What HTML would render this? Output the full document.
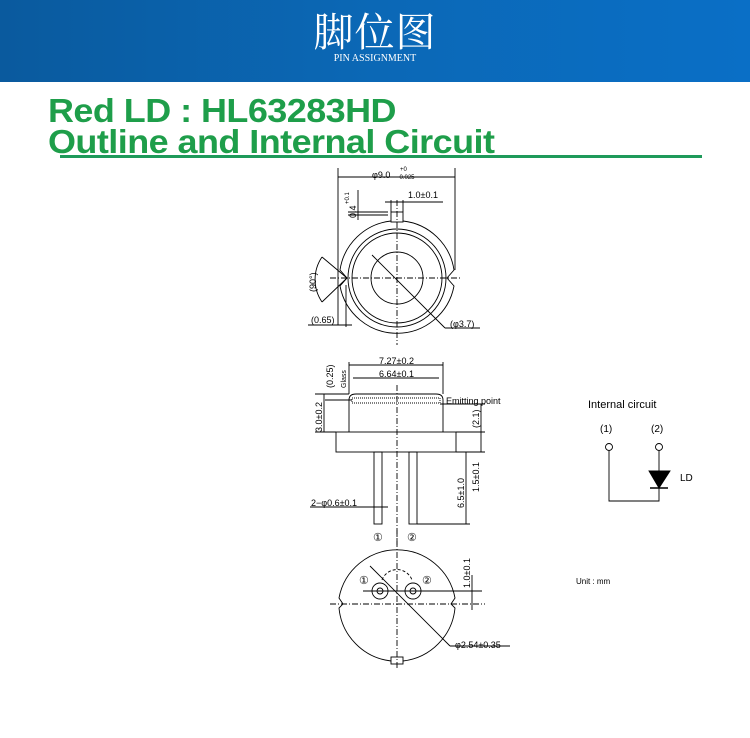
<!DOCTYPE html>
<html><head><meta charset="utf-8"><style>
html,body{margin:0;padding:0;background:#fff;}
body{width:750px;height:738px;position:relative;overflow:hidden;font-family:"Liberation Sans",sans-serif;}
.hdr{position:absolute;left:0;top:0;width:750px;height:82px;background:linear-gradient(90deg,#0a5a9e 0%,#0b68b6 50%,#0a6fc6 100%);}
.cn{position:absolute;left:0;width:750px;text-align:center;top:6px;color:#fff;font:40px "Noto Serif CJK SC","WenQuanYi Zen Hei",serif;letter-spacing:1px;line-height:48px;}
.en{position:absolute;left:0;width:750px;text-align:center;top:53px;color:#fff;font:10px "Liberation Serif",serif;}
.t{position:absolute;left:48px;color:#1e9e4a;font-weight:bold;font-size:33px;line-height:32px;transform:scaleX(1.09);transform-origin:left;letter-spacing:-0.5px;white-space:nowrap;}
</style></head><body>
<div class="hdr"></div>
<div class="cn">脚位图</div>
<div class="en">PIN ASSIGNMENT</div>
<div class="t" style="top:95px">Red LD : HL63283HD</div>
<div class="t" style="top:126px">Outline and Internal Circuit</div>
<div style="position:absolute;left:60px;top:155px;width:642px;height:3px;background:#1e9a5a"></div>
<svg width="750" height="738" style="position:absolute;left:0;top:0" font-family="Liberation Sans,sans-serif" font-size="9" fill="none" stroke="#000" stroke-width="0.9">
<!-- top view -->
<path d="M391 221 A58 58 0 0 0 340 270 L347 278 L340 286 A58 58 0 0 0 454 286 L447 278 L454 270 A58 58 0 0 0 403 221"/>
<rect x="391" y="212" width="12" height="10"/>
<circle cx="397" cy="278" r="49"/><circle cx="397" cy="278" r="45"/><circle cx="397" cy="278" r="26"/>
<line x1="397" y1="200" x2="397" y2="345" stroke-dasharray="6,2,1,2"/>
<line x1="330" y1="278" x2="462" y2="278" stroke-dasharray="6,2,1,2"/>
<line x1="372" y1="255" x2="445" y2="328"/><line x1="445" y1="328" x2="480" y2="328"/>
<line x1="338" y1="168" x2="338" y2="325"/><line x1="455" y1="168" x2="455" y2="270"/>
<line x1="338" y1="177" x2="455" y2="177"/>
<line x1="391" y1="200" x2="391" y2="212"/><line x1="403" y1="200" x2="403" y2="212"/>
<line x1="385" y1="202" x2="443" y2="202"/>
<line x1="348" y1="215" x2="388" y2="215"/><line x1="348" y1="212" x2="388" y2="212"/>
<line x1="358" y1="190" x2="358" y2="220"/>
<path d="M322 257 A40 40 0 0 0 322 302"/>
<line x1="322" y1="257" x2="347" y2="278"/><line x1="322" y1="302" x2="347" y2="278"/>
<line x1="346" y1="285" x2="346" y2="327"/>
<line x1="308" y1="325" x2="352" y2="325"/>
<g fill="#000" stroke="none">
<text x="372" y="178">φ9.0</text><text x="400" y="171" font-size="6">+0</text><text x="396" y="179" font-size="6">−0.025</text>
<text x="408" y="198">1.0±0.1</text>
<text x="311" y="323">(0.65)</text>
<text x="450" y="327">(φ3.7)</text>
<text transform="translate(356,218) rotate(-90)">0.4</text>
<text transform="translate(349,204) rotate(-90)" font-size="6">+0.1</text>
<text transform="translate(316,292) rotate(-90)">(90°)</text>
</g>
<!-- side view -->
<path d="M349 432 L349 400 Q349 394 356 394 L436 394 Q443 394 443 400 L443 432"/>
<rect x="352" y="398" width="88" height="5" stroke-dasharray="1,1"/>
<rect x="336" y="432" width="120" height="20"/>
<rect x="374" y="452" width="8" height="72"/><rect x="409" y="452" width="8" height="72"/>
<line x1="397" y1="385" x2="397" y2="545" stroke-dasharray="6,2,1,2"/>
<line x1="349" y1="365" x2="443" y2="365"/><line x1="353" y1="378" x2="439" y2="378"/>
<line x1="349" y1="362" x2="349" y2="394"/><line x1="443" y1="362" x2="443" y2="394"/>
<line x1="325" y1="400" x2="352" y2="400"/><line x1="315" y1="432" x2="336" y2="432"/><line x1="315" y1="394" x2="349" y2="394"/>
<line x1="324" y1="394" x2="324" y2="432"/>
<line x1="440" y1="404" x2="485" y2="404"/><line x1="456" y1="432" x2="485" y2="432"/><line x1="417" y1="524" x2="470" y2="524"/>
<line x1="481" y1="404" x2="481" y2="452"/><line x1="466" y1="452" x2="466" y2="524"/>
<line x1="456" y1="452" x2="485" y2="452"/>
<line x1="310" y1="507" x2="388" y2="507"/>
<g fill="#000" stroke="none">
<text x="379" y="364">7.27±0.2</text><text x="379" y="377">6.64±0.1</text>
<text x="446" y="404">Emitting point</text>
<text x="311" y="506">2−φ0.6±0.1</text>
<text transform="translate(322,432) rotate(-90)">3.0±0.2</text>
<text transform="translate(333,388) rotate(-90)">(0.25)</text>
<text transform="translate(346,388) rotate(-90)" font-size="7">Glass</text>
<text transform="translate(479,428) rotate(-90)">(2.1)</text>
<text transform="translate(479,492) rotate(-90)">1.5±0.1</text>
<text transform="translate(464,508) rotate(-90)">6.5±1.0</text>
<text x="373" y="541" font-size="11">①</text><text x="407" y="541" font-size="11">②</text>
</g>
<!-- bottom view -->
<path d="M391 661 A59 59 0 0 1 339 608 L343 604 L339 598 A59 59 0 0 1 455 598 L451 604 L455 608 A59 59 0 0 1 403 661"/>
<rect x="391" y="657" width="12" height="7"/>
<circle cx="380" cy="591" r="8"/><circle cx="380" cy="591" r="3"/>
<circle cx="413" cy="591" r="8"/><circle cx="413" cy="591" r="3"/>
<path d="M382 580 A16 16 0 0 1 412 580" stroke-dasharray="3,2"/>
<line x1="397" y1="530" x2="397" y2="668" stroke-dasharray="6,2,1,2"/>
<line x1="330" y1="604" x2="485" y2="604" stroke-dasharray="6,2,1,2"/>
<line x1="363" y1="591" x2="482" y2="591"/>
<line x1="370" y1="566" x2="450" y2="646"/><line x1="450" y1="646" x2="510" y2="646"/>
<line x1="472" y1="575" x2="472" y2="610"/>
<g fill="#000" stroke="none">
<text x="359" y="584" font-size="11">①</text><text x="422" y="584" font-size="11">②</text>
<text x="455" y="648">φ2.54±0.35</text>
<text transform="translate(470,588) rotate(-90)">1.0±0.1</text>
<text x="576" y="584" font-size="8">Unit : mm</text>
</g>
<!-- circuit -->
<g fill="#000" stroke="none" font-size="11">
<text x="588" y="408">Internal circuit</text>
<text x="600" y="432" font-size="10">(1)</text><text x="651" y="432" font-size="10">(2)</text>
<text x="680" y="481" font-size="10">LD</text>
</g>
<circle cx="609" cy="447" r="3.5" fill="#fff"/><circle cx="659" cy="447" r="3.5" fill="#fff"/>
<polyline points="609,451 609,501 659,501 659,451"/>
<polygon points="649,471 670,471 659,488" fill="#000"/>
<line x1="650" y1="488" x2="668" y2="488" stroke-width="1.4"/>
</svg>
</body></html>
